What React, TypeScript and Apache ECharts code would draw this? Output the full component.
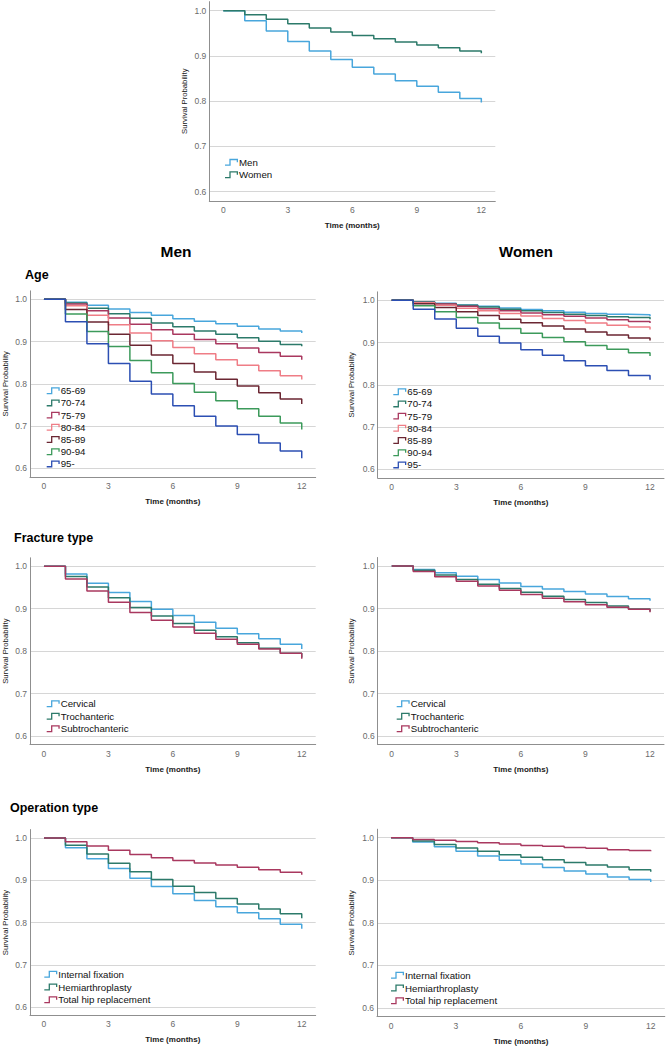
import React, { useEffect, useRef } from "react";
import * as echarts from "echarts";

const months = [0, 1, 2, 3, 4, 5, 6, 7, 8, 9, 10, 11, 12];
const xTicks = [0, 3, 6, 9, 12];
const yTicks = [0.6, 0.7, 0.8, 0.9, 1.0];

// Overall
const sexNames = ["Men", "Women"];
const overallMen = [1, 0.978, 0.955, 0.932, 0.911, 0.892, 0.875, 0.86, 0.845, 0.833, 0.82, 0.806, 0.797];
const overallWomen = [1, 0.991, 0.981, 0.971, 0.962, 0.953, 0.945, 0.938, 0.931, 0.924, 0.918, 0.911, 0.906];

// Age groups
const ageNames = ["65-69", "70-74", "75-79", "80-84", "85-89", "90-94", "95-"];
const ageMen65 = [1, 0.993, 0.986, 0.977, 0.969, 0.962, 0.954, 0.948, 0.942, 0.936, 0.93, 0.925, 0.92];
const ageMen70 = [1, 0.991, 0.979, 0.966, 0.955, 0.944, 0.935, 0.925, 0.917, 0.909, 0.901, 0.893, 0.889];
const ageMen75 = [1, 0.989, 0.973, 0.956, 0.941, 0.928, 0.917, 0.905, 0.895, 0.885, 0.874, 0.865, 0.857];
const ageMen80 = [1, 0.985, 0.962, 0.94, 0.92, 0.902, 0.886, 0.871, 0.857, 0.844, 0.831, 0.819, 0.81];
const ageMen85 = [1, 0.976, 0.946, 0.917, 0.891, 0.868, 0.848, 0.828, 0.811, 0.795, 0.779, 0.764, 0.752];
const ageMen90 = [1, 0.965, 0.924, 0.888, 0.855, 0.826, 0.801, 0.78, 0.76, 0.741, 0.723, 0.707, 0.692];
const ageMen95 = [1, 0.947, 0.895, 0.848, 0.806, 0.776, 0.748, 0.723, 0.7, 0.68, 0.66, 0.641, 0.624];

const ageWomen65 = [1, 0.996, 0.993, 0.989, 0.986, 0.982, 0.978, 0.975, 0.972, 0.969, 0.967, 0.966, 0.962];
const ageWomen70 = [1, 0.996, 0.992, 0.988, 0.984, 0.979, 0.975, 0.971, 0.967, 0.964, 0.961, 0.959, 0.955];
const ageWomen75 = [1, 0.995, 0.991, 0.986, 0.98, 0.975, 0.97, 0.966, 0.962, 0.958, 0.954, 0.95, 0.946];
const ageWomen80 = [1, 0.994, 0.988, 0.981, 0.975, 0.969, 0.963, 0.957, 0.952, 0.946, 0.941, 0.937, 0.931];
const ageWomen85 = [1, 0.992, 0.983, 0.973, 0.964, 0.955, 0.947, 0.939, 0.932, 0.925, 0.918, 0.911, 0.905];
const ageWomen90 = [1, 0.987, 0.973, 0.959, 0.946, 0.933, 0.922, 0.912, 0.902, 0.893, 0.884, 0.876, 0.868];
const ageWomen95 = [1, 0.979, 0.956, 0.934, 0.915, 0.899, 0.883, 0.87, 0.857, 0.845, 0.834, 0.822, 0.812];

// Fracture type
const fractureNames = ["Cervical", "Trochanteric", "Subtrochanteric"];
const fracMenCervical = [1, 0.982, 0.96, 0.938, 0.917, 0.899, 0.884, 0.868, 0.854, 0.841, 0.829, 0.816, 0.805];
const fracMenTroch = [1, 0.976, 0.951, 0.926, 0.903, 0.883, 0.865, 0.849, 0.834, 0.82, 0.807, 0.795, 0.785];
const fracMenSubtroch = [1, 0.97, 0.942, 0.915, 0.891, 0.873, 0.857, 0.842, 0.828, 0.816, 0.805, 0.795, 0.782];
const fracWomenCervical = [1, 0.992, 0.984, 0.976, 0.968, 0.96, 0.952, 0.946, 0.94, 0.934, 0.928, 0.923, 0.918];
const fracWomenTroch = [1, 0.99, 0.979, 0.968, 0.957, 0.947, 0.938, 0.929, 0.921, 0.914, 0.906, 0.899, 0.893];
const fracWomenSubtroch = [1, 0.987, 0.975, 0.964, 0.953, 0.943, 0.933, 0.924, 0.916, 0.909, 0.903, 0.898, 0.891];

// Operation type
const operationNames = ["Internal fixation", "Hemiarthroplasty", "Total hip replacement"];
const opMenIF = [1, 0.977, 0.951, 0.928, 0.905, 0.885, 0.868, 0.852, 0.837, 0.823, 0.809, 0.796, 0.785];
const opMenHemi = [1, 0.983, 0.962, 0.94, 0.92, 0.902, 0.886, 0.871, 0.857, 0.844, 0.832, 0.821, 0.81];
const opMenTHR = [1, 0.991, 0.981, 0.971, 0.961, 0.953, 0.947, 0.941, 0.936, 0.931, 0.925, 0.919, 0.913];
const opWomenIF = [1, 0.99, 0.979, 0.968, 0.957, 0.947, 0.938, 0.93, 0.922, 0.915, 0.908, 0.902, 0.896];
const opWomenHemi = [1, 0.992, 0.984, 0.976, 0.968, 0.96, 0.954, 0.948, 0.942, 0.936, 0.931, 0.925, 0.92];
const opWomenTHR = [1, 0.996, 0.994, 0.991, 0.988, 0.985, 0.982, 0.98, 0.977, 0.975, 0.972, 0.97, 0.968];

const C = {
  blue: "#48a6dc",
  teal: "#2c7a6a",
  crimson: "#a9385f",
  salmon: "#ef7d86",
  maroon: "#6b2632",
  green: "#3c9a5b",
  royal: "#2c4fb3",
};
const ageColors = [C.blue, C.teal, C.crimson, C.salmon, C.maroon, C.green, C.royal];
const threeColors = [C.blue, C.teal, C.crimson];

const FONT = "'Liberation Sans', Arial, sans-serif";
const ICON =
  "path://M0,5.65 L4.35,5.65 L4.35,0 L13,0 L13,3.5 L11.7,3.5 L11.7,1.3 L5.65,1.3 L5.65,6.95 L0,6.95 Z";

type Panel = {
  grid: { left: number; top: number; width: number; height: number };
  legend: { left: number; top: number; gap: number };
  names: string[];
  colors: string[];
  values: number[][];
  yNameGap: number;
  xNameGap: number;
};

const panels: Panel[] = [
  {
    grid: { left: 209.3, top: 1.65, width: 286, height: 199.1 },
    legend: { left: 225, top: 156.3, gap: 0.4 },
    names: sexNames,
    colors: [C.blue, C.teal],
    values: [overallMen, overallWomen],
    yNameGap: 21,
    xNameGap: 21,
  },
  {
    grid: { left: 29.7, top: 290.85, width: 286, height: 185.9 },
    legend: { left: 46.7, top: 384.7, gap: 0.2 },
    names: ageNames,
    colors: ageColors,
    values: [ageMen65, ageMen70, ageMen75, ageMen80, ageMen85, ageMen90, ageMen95],
    yNameGap: 21,
    xNameGap: 21,
  },
  {
    grid: { left: 377.7, top: 291.85, width: 286.3, height: 185.9 },
    legend: { left: 393.3, top: 385.7, gap: 0.2 },
    names: ageNames,
    colors: ageColors,
    values: [ageWomen65, ageWomen70, ageWomen75, ageWomen80, ageWomen85, ageWomen90, ageWomen95],
    yNameGap: 22,
    xNameGap: 21,
  },
  {
    grid: { left: 29.7, top: 557.8, width: 286, height: 186.7 },
    legend: { left: 46.7, top: 697.7, gap: 0.5 },
    names: fractureNames,
    colors: threeColors,
    values: [fracMenCervical, fracMenTroch, fracMenSubtroch],
    yNameGap: 21,
    xNameGap: 20.5,
  },
  {
    grid: { left: 377.7, top: 557.5, width: 286.3, height: 187 },
    legend: { left: 396.7, top: 697.7, gap: 0.5 },
    names: fractureNames,
    colors: threeColors,
    values: [fracWomenCervical, fracWomenTroch, fracWomenSubtroch],
    yNameGap: 22,
    xNameGap: 20.5,
  },
  {
    grid: { left: 29.3, top: 829.55, width: 286.4, height: 185.9 },
    legend: { left: 44.3, top: 968.3, gap: 0.7 },
    names: operationNames,
    colors: threeColors,
    values: [opMenIF, opMenHemi, opMenTHR],
    yNameGap: 21,
    xNameGap: 20.5,
  },
  {
    grid: { left: 377, top: 829.2, width: 287.8, height: 187.3 },
    legend: { left: 391, top: 969.3, gap: 0.7 },
    names: operationNames,
    colors: threeColors,
    values: [opWomenIF, opWomenHemi, opWomenTHR],
    yNameGap: 22,
    xNameGap: 20.5,
  },
];

function buildOption() {
  const grid: any[] = [];
  const xAxis: any[] = [];
  const yAxis: any[] = [];
  const legend: any[] = [];
  const series: any[] = [];
  const axisLineColor = "#8f8f8f";
  const labelColor = "#6a6a6a";

  panels.forEach((p, gi) => {
    grid.push({ ...p.grid });
    xAxis.push({
      type: "value",
      gridIndex: gi,
      min: -0.65,
      max: 12.65,
      name: "Time (months)",
      nameLocation: "middle",
      nameGap: p.xNameGap,
      nameTextStyle: { fontFamily: FONT, fontSize: 8, fontWeight: "bold", color: "#1a1a1a" },
      axisLine: { show: true, onZero: false, lineStyle: { color: axisLineColor, width: 1 } },
      axisTick: { show: false, customValues: xTicks },
      axisLabel: {
        customValues: xTicks,
        fontFamily: FONT,
        fontSize: 8.5,
        color: labelColor,
        margin: 4.5,
      },
      splitLine: { show: false },
    });
    yAxis.push({
      type: "value",
      gridIndex: gi,
      min: 0.58,
      max: 1.02,
      name: "Survival Probability",
      nameLocation: "middle",
      nameGap: p.yNameGap,
      nameTextStyle: { fontFamily: FONT, fontSize: 7.7, color: "#1a1a1a" },
      axisLine: { show: true, onZero: false, lineStyle: { color: axisLineColor, width: 1 } },
      axisTick: { show: false, customValues: yTicks },
      axisLabel: {
        customValues: yTicks,
        fontFamily: FONT,
        fontSize: 8.5,
        color: labelColor,
        margin: 3,
        formatter: (v: number) => v.toFixed(1),
      },
      splitLine: { show: true, lineStyle: { color: "#d6d6d6", width: 1 } },
    });
    legend.push({
      orient: "vertical",
      left: p.legend.left,
      top: p.legend.top,
      padding: 0,
      itemGap: p.legend.gap,
      itemWidth: 13,
      itemHeight: 7,
      icon: ICON,
      itemStyle: { borderWidth: 0 },
      selectedMode: false,
      data: p.names,
      textStyle: {
        fontFamily: FONT,
        fontSize: 9.7,
        color: "#111",
        lineHeight: 12,
        padding: [0, 0, 0, -4],
      },
    });
    p.names.forEach((name, si) => {
      series.push({
        type: "line",
        name,
        xAxisIndex: gi,
        yAxisIndex: gi,
        step: "end",
        showSymbol: false,
        symbol: "none",
        color: p.colors[si],
        lineStyle: { width: 1.5, color: p.colors[si] },
        data: months.map((m, i) => [m, p.values[si][i]]),
        silent: true,
      });
    });
  });

  const graphic = [
    { type: "text", x: 176, y: 251, style: { text: "Men", fontFamily: FONT, fontSize: 15.5, fontWeight: "bold", fill: "#000", align: "center", verticalAlign: "middle" } },
    { type: "text", x: 526, y: 251, style: { text: "Women", fontFamily: FONT, fontSize: 15, fontWeight: "bold", fill: "#000", align: "center", verticalAlign: "middle" } },
    { type: "text", x: 25, y: 275, style: { text: "Age", fontFamily: FONT, fontSize: 12.5, fontWeight: "bold", fill: "#000", align: "left", verticalAlign: "middle" } },
    { type: "text", x: 14, y: 538, style: { text: "Fracture type", fontFamily: FONT, fontSize: 12.5, fontWeight: "bold", fill: "#000", align: "left", verticalAlign: "middle" } },
    { type: "text", x: 10, y: 808, style: { text: "Operation type", fontFamily: FONT, fontSize: 12.5, fontWeight: "bold", fill: "#000", align: "left", verticalAlign: "middle" } },
  ];

  return {
    animation: false,
    backgroundColor: "#ffffff",
    grid,
    xAxis,
    yAxis,
    legend,
    series,
    graphic,
  };
}

export default function App() {
  const ref = useRef<HTMLDivElement>(null);
  useEffect(() => {
    if (!ref.current) return;
    const chart = echarts.init(ref.current, undefined, { renderer: "svg" });
    chart.setOption(buildOption() as any);
    return () => chart.dispose();
  }, []);
  return (
    <div
      ref={ref}
      style={{ position: "absolute", left: 0, top: 0, width: 666, height: 1047, background: "#fff" }}
    />
  );
}
